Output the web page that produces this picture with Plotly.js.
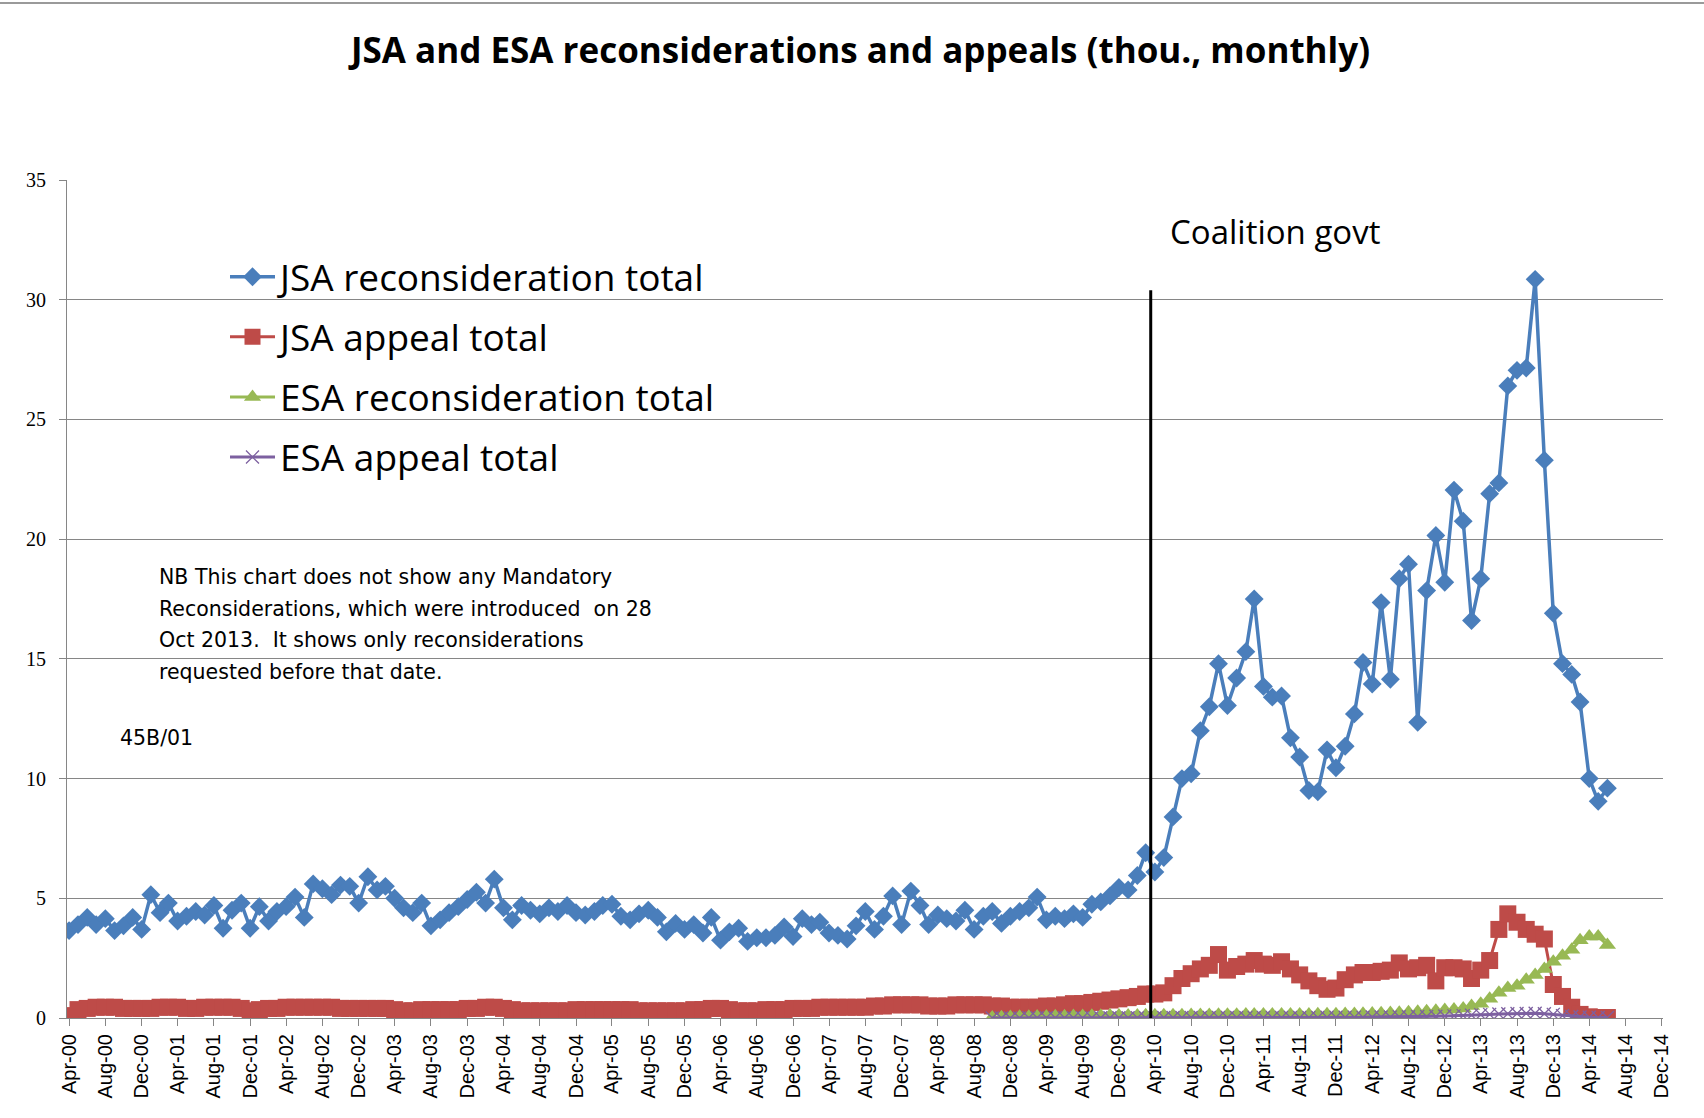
<!DOCTYPE html>
<html>
<head>
<meta charset="utf-8">
<script src="https://cdn.plot.ly/plotly-3.0.1.min.js"></script>
<style>
  html, body { margin: 0; padding: 0; background: #fff; }
  #chart { width: 1704px; height: 1118px; }
</style>
</head>
<body>
<div id="chart"></div>
<script>
// ---- Data (thousands, monthly) ----
// JSA reconsideration total, Apr-2000 .. Jun-2014
const jsaRecon = [
  3.65, 3.9, 4.2, 3.9, 4.15, 3.65, 3.85, 4.2, 3.7,                       // 2000 Apr-Dec
  5.15, 4.4, 4.8, 4.05, 4.25, 4.45, 4.3, 4.7, 3.75, 4.5, 4.8, 3.75,      // 2001
  4.65, 4.05, 4.45, 4.65, 5.05, 4.2, 5.6, 5.4, 5.15, 5.55, 5.5, 4.8,     // 2002
  5.9, 5.35, 5.5, 5.0, 4.6, 4.4, 4.8, 3.85, 4.1, 4.4, 4.65, 4.95,        // 2003
  5.25, 4.8, 5.8, 4.6, 4.1, 4.7, 4.5, 4.35, 4.6, 4.45, 4.7, 4.4,         // 2004
  4.3, 4.45, 4.7, 4.75, 4.25, 4.1, 4.35, 4.5, 4.2, 3.6, 3.95, 3.7,       // 2005
  3.9, 3.55, 4.2, 3.25, 3.6, 3.75, 3.2, 3.35, 3.35, 3.45, 3.8, 3.4,      // 2006
  4.15, 3.9, 4.0, 3.55, 3.45, 3.3, 3.85, 4.45, 3.7, 4.25, 5.1, 3.9,      // 2007
  5.3, 4.7, 3.9, 4.3, 4.15, 4.05, 4.5, 3.7, 4.25, 4.45, 3.95, 4.25,      // 2008
  4.45, 4.6, 5.05, 4.1, 4.25, 4.15, 4.35, 4.2, 4.75, 4.85, 5.1, 5.45,    // 2009
  5.35, 5.95, 6.9, 6.1, 6.7, 8.4, 10.0, 10.2, 12.0, 13.0, 14.8, 13.05,   // 2010
  14.2, 15.3, 17.5, 13.85, 13.4, 13.45, 11.7, 10.9, 9.5, 9.45, 11.2, 10.45, // 2011
  11.35, 12.7, 14.85, 13.95, 17.35, 14.15, 18.35, 18.95, 12.35, 17.85, 20.15, 18.2, // 2012
  22.05, 20.75, 16.6, 18.35, 21.9, 22.35, 26.4, 27.05, 27.15, 30.85, 23.3, 16.9,    // 2013
  14.8, 14.35, 13.2, 10.0, 9.05, 9.6                                      // 2014 Jan-Jun
];
// JSA appeal total, Apr-2000 .. Jun-2014
const jsaAppeal = [
  0.1, 0.35, 0.4, 0.45, 0.45, 0.45, 0.4, 0.4, 0.4,
  0.4, 0.45, 0.45, 0.45, 0.4, 0.4, 0.45, 0.45, 0.45, 0.45, 0.4, 0.3,
  0.35, 0.4, 0.4, 0.45, 0.45, 0.45, 0.45, 0.45, 0.45, 0.4, 0.4, 0.4,
  0.4, 0.4, 0.4, 0.35, 0.3, 0.3, 0.35, 0.35, 0.35, 0.35, 0.35, 0.4,
  0.4, 0.45, 0.45, 0.4, 0.35, 0.3, 0.3, 0.3, 0.3, 0.3, 0.3, 0.35,
  0.35, 0.35, 0.35, 0.35, 0.35, 0.35, 0.3, 0.3, 0.3, 0.3, 0.3, 0.3,
  0.35, 0.35, 0.4, 0.4, 0.35, 0.3, 0.3, 0.3, 0.35, 0.35, 0.35, 0.4,
  0.4, 0.4, 0.45, 0.45, 0.45, 0.45, 0.45, 0.45, 0.5, 0.5, 0.55, 0.55,
  0.55, 0.55, 0.5, 0.5, 0.5, 0.55, 0.55, 0.55, 0.55, 0.5, 0.5, 0.45,
  0.45, 0.45, 0.45, 0.5, 0.5, 0.55, 0.6, 0.6, 0.65, 0.7, 0.75, 0.8,
  0.85, 0.9, 1.0, 1.0, 1.05, 1.35, 1.65, 1.85, 2.05, 2.2, 2.65, 2.0,
  2.15, 2.25, 2.4, 2.25, 2.2, 2.35, 2.05, 1.8, 1.55, 1.35, 1.2, 1.25,
  1.6, 1.8, 1.9, 1.9, 1.95, 2.0, 2.3, 2.05, 2.1, 2.2, 1.55, 2.1,
  2.1, 2.05, 1.65, 2.0, 2.4, 3.7, 4.35, 4.0, 3.7, 3.5, 3.3, 1.4,
  0.9, 0.45, 0.15, 0.05, 0.02, 0.02
];
// ESA reconsideration total, Oct-2008 .. Jun-2014
const esaRecon = [
  0.02, 0.03, 0.04,
  0.05, 0.05, 0.06, 0.06, 0.07, 0.07, 0.08, 0.08, 0.09, 0.09, 0.1, 0.1,
  0.1, 0.1, 0.11, 0.11, 0.12, 0.12, 0.12, 0.13, 0.13, 0.13, 0.14, 0.14,
  0.14, 0.15, 0.15, 0.15, 0.15, 0.15, 0.15, 0.15, 0.15, 0.16, 0.16, 0.16,
  0.17, 0.17, 0.18, 0.19, 0.2, 0.21, 0.22, 0.24, 0.26, 0.28, 0.3, 0.33,
  0.36, 0.4, 0.5, 0.6, 0.8, 1.05, 1.25, 1.35, 1.6, 1.8, 2.05, 2.35,
  2.6, 2.85, 3.25, 3.4, 3.4, 3.05
];
// ESA appeal total, Oct-2008 .. Jun-2014
const esaAppeal = [
  0.0, 0.0, 0.0,
  0.0, 0.01, 0.01, 0.01, 0.01, 0.01, 0.01, 0.01, 0.01, 0.01, 0.01, 0.01,
  0.01, 0.01, 0.01, 0.01, 0.02, 0.02, 0.02, 0.02, 0.02, 0.02, 0.02, 0.02,
  0.02, 0.02, 0.02, 0.02, 0.02, 0.02, 0.02, 0.02, 0.02, 0.02, 0.03, 0.03,
  0.03, 0.03, 0.03, 0.04, 0.04, 0.04, 0.05, 0.05, 0.06, 0.06, 0.07, 0.08,
  0.09, 0.1, 0.12, 0.14, 0.15, 0.17, 0.18, 0.19, 0.19, 0.2, 0.18, 0.15,
  0.1, 0.06, 0.04, 0.03, 0.02, 0.02
];
const seriesNames = ['JSA reconsideration total', 'JSA appeal total', 'ESA reconsideration total', 'ESA appeal total'];
const jsaStart = [2000, 4];   // first month of JSA series
const esaStart = [2008, 10];  // first month of ESA series
const coalitionDate = '2010-03-18';
const noteLines = [
  'NB This chart does not show any Mandatory',
  'Reconsiderations, which were introduced  on 28',
  'Oct 2013.  It shows only reconsiderations',
  'requested before that date.'
];
const noteCode = '45B/01';

// month category labels
function months(start, n) {
  const out = [];
  let y = start[0], m = start[1];
  for (let i = 0; i < n; i++) {
    out.push(y + '-' + String(m).padStart(2, '0') + '-01');
    m++; if (m > 12) { m = 1; y++; }
  }
  return out;
}
const xJsa = months(jsaStart, jsaRecon.length);
const xEsa = months(esaStart, esaRecon.length);

const traces = [
  { x: xJsa, y: jsaRecon, name: seriesNames[0], legendgroup: 'a', type: 'scatter', mode: 'lines+markers',
    line: { color: '#4A7EBB', width: 3.5 },
    marker: { symbol: 'diamond', size: 14.5, color: '#4A7EBB' } },
  { x: xJsa, y: jsaAppeal, name: seriesNames[1], legendgroup: 'b', type: 'scatter', mode: 'lines+markers',
    line: { color: '#BE4B48', width: 3 },
    marker: { symbol: 'square', size: 17, color: '#BE4B48' } },
  { x: xEsa, y: esaRecon, name: seriesNames[2], legendgroup: 'c', type: 'scatter', mode: 'lines+markers',
    line: { color: '#98B954', width: 3 },
    marker: { symbol: 'triangle-up', size: 15, color: '#98B954' } },
  { x: xEsa, y: esaAppeal, name: seriesNames[3], legendgroup: 'd', type: 'scatter', mode: 'lines+markers',
    line: { color: '#7D60A0', width: 3 },
    marker: { symbol: 'x-thin-open', size: 13, color: '#7D60A0', line: { width: 1.3, color: '#7D60A0' } } }
];

const noteAnns = noteLines.map((t, i) => ({
  text: t, xref: 'paper', yref: 'paper', x: (157 - 67) / 1596, y: (1018 - (577 + i * 31.5)) / 838,
  xanchor: 'left', yanchor: 'middle', showarrow: false,
  font: { family: 'DejaVu Sans', size: 20.5, color: '#000' }
}));

const layout = {
  width: 1704, height: 1118,
  paper_bgcolor: '#fff', plot_bgcolor: '#fff',
  margin: { l: 67, r: 41, t: 180, b: 100 },
  title: { text: '<b>JSA and ESA reconsiderations and appeals (thou., monthly)</b>',
           font: { family: 'Open Sans', size: 35, color: '#000' },
           xref: 'container', yref: 'container', x: 0.505, y: 0.955, xanchor: 'center', yanchor: 'middle' },
  xaxis: {
    type: 'date', range: ['2000-03-25', '2014-12-05'],
    tick0: '2000-04-01', dtick: 'M4', tickformat: '%b-%y', tickangle: -90,
    showgrid: false, showline: true, linecolor: '#868686', linewidth: 1,
    ticks: 'outside', ticklen: 7, tickcolor: '#868686',
    tickfont: { family: 'Liberation Sans', size: 20, color: '#000' }, zeroline: false
  },
  yaxis: {
    range: [0, 35], dtick: 5, tick0: 0,
    showgrid: true, gridcolor: '#868686', gridwidth: 1,
    showline: true, linecolor: '#868686', linewidth: 1,
    ticks: 'outside', ticklen: 7, tickcolor: '#868686', ticklabelstandoff: 9,
    tickfont: { family: 'Liberation Serif', size: 20, color: '#000' }, zeroline: false
  },
  showlegend: true,
  legend: {
    x: (225 - 67) / 1596, y: 0.921, xanchor: 'left', yanchor: 'top',
    bgcolor: 'rgba(0,0,0,0)', borderwidth: 0,
    traceorder: 'grouped', tracegroupgap: 9, itemwidth: 45,
    font: { family: 'Open Sans', size: 37, color: '#000' }
  },
  shapes: [
    { type: 'line', xref: 'x', yref: 'y', x0: coalitionDate, x1: coalitionDate, y0: 0, y1: 30.4,
      line: { color: '#000', width: 3 } },
    { type: 'line', xref: 'paper', yref: 'paper', x0: -67 / 1596, x1: (1704 - 67) / 1596,
      y0: (1018 - 3) / 838, y1: (1018 - 3) / 838, line: { color: '#9a9a9a', width: 2 } }
  ],
  annotations: [
    { text: 'Coalition govt', xref: 'paper', yref: 'paper', x: (1275 - 67) / 1596, y: (1018 - 231) / 838,
      xanchor: 'center', yanchor: 'middle', showarrow: false,
      font: { family: 'Open Sans', size: 33, color: '#000' } },
    { text: noteCode, xref: 'paper', yref: 'paper', x: (118 - 67) / 1596, y: (1018 - 738) / 838,
      xanchor: 'left', yanchor: 'middle', showarrow: false,
      font: { family: 'DejaVu Sans', size: 20.5, color: '#000' } }
  ].concat(noteAnns)
};

Plotly.newPlot('chart', traces, layout, { displayModeBar: false, responsive: false });
</script>
</body>
</html>
